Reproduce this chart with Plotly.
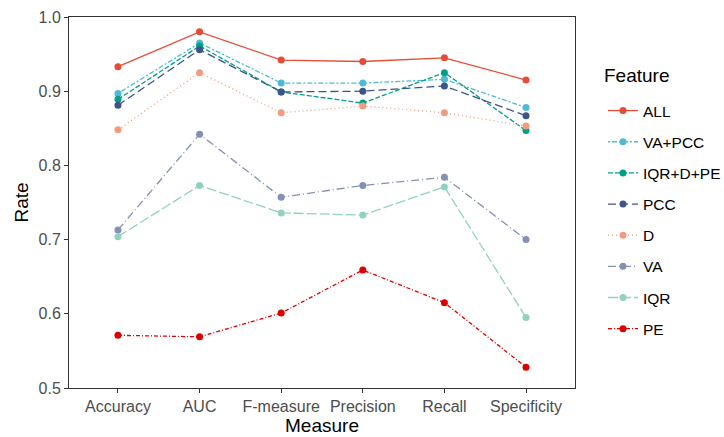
import plotly.graph_objects as go

measures = ["Accuracy", "AUC", "F-measure", "Precision", "Recall", "Specificity"]
features = ["ALL", "VA+PCC", "IQR+D+PE", "PCC", "D", "VA", "IQR", "PE"]

all_vals = [0.933, 0.980, 0.942, 0.940, 0.945, 0.915]
va_pcc = [0.897, 0.965, 0.911, 0.911, 0.916, 0.878]
iqr_d_pe = [0.889, 0.961, 0.899, 0.884, 0.925, 0.847]
pcc = [0.881, 0.956, 0.899, 0.900, 0.907, 0.867]
d_vals = [0.848, 0.925, 0.871, 0.880, 0.871, 0.853]
va = [0.713, 0.842, 0.757, 0.773, 0.784, 0.700]
iqr = [0.704, 0.773, 0.736, 0.733, 0.771, 0.595]
pe = [0.571, 0.569, 0.601, 0.659, 0.615, 0.528]

series = [all_vals, va_pcc, iqr_d_pe, pcc, d_vals, va, iqr, pe]
colors = ["#E64B35", "#4DBBD5", "#00A087", "#3C5488", "#F39B7F", "#8491B4", "#91D1C2", "#DC0000"]
dashes = ["solid", "2px,2px,5px,2px", "5px,2px", "8px,4px", "1px,3px", "8px,3px,1px,3px", "10px,3px", "4px,2px,1px,2px"]

fig = go.Figure()
for name, vals, c, dsh in zip(features, series, colors, dashes):
    fig.add_trace(go.Scatter(
        x=measures, y=vals, name=name, mode="lines+markers",
        line=dict(color=c, width=1.3, dash=dsh),
        marker=dict(color=c, size=7),
        legendgroup=name,
    ))

fig.add_annotation(
    text="Feature", xref="paper", yref="paper",
    x=(602 - 69) / (724 - 69 - 149), y=1 + (17 - 75) / (437 - 17 - 49),
    xanchor="left", yanchor="middle", showarrow=False,
    font=dict(size=19, color="black"),
)

fig.update_layout(
    width=724, height=437,
    margin=dict(l=69, r=149, t=17, b=49),
    paper_bgcolor="white", plot_bgcolor="white",
    font=dict(family="Liberation Sans, Arial, sans-serif", color="#4D4D4D", size=16),
    xaxis=dict(
        title=dict(text="Measure", font=dict(size=19, color="black"), standoff=3),
        range=[-0.6, 5.6], showgrid=False, zeroline=False, automargin=False,
        showline=True, mirror=True, linecolor="#333", linewidth=1,
        ticks="outside", ticklen=4, tickcolor="#333",
        tickfont=dict(size=16, color="#4D4D4D"),
    ),
    yaxis=dict(
        title=dict(text="Rate", font=dict(size=19, color="black"), standoff=4),
        range=[0.5, 1.0], dtick=0.1, tickformat=".1f", automargin=False,
        showgrid=False, zeroline=False,
        showline=True, mirror=True, linecolor="#333", linewidth=1,
        ticks="outside", ticklen=4, tickcolor="#333",
        tickfont=dict(size=16, color="#4D4D4D"),
    ),
    legend=dict(
        xref="container", yref="container",
        x=603 / 724, y=1 - 94 / 437, xanchor="left", yanchor="top",
        font=dict(size=15.5, color="black"),
        tracegroupgap=8, itemwidth=30,
        maxheight=400,
        bgcolor="rgba(0,0,0,0)",
    ),
    showlegend=True,
)

fig.write_html("out.html")
